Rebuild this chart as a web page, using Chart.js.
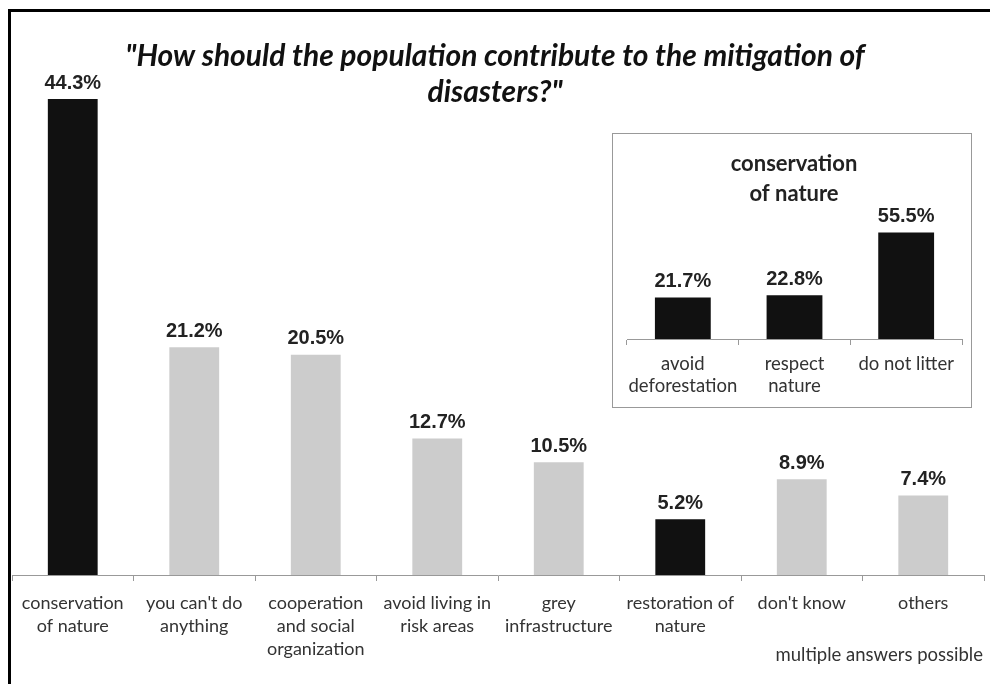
<!DOCTYPE html>
<html>
<head>
<meta charset="utf-8">
<script src="https://cdn.jsdelivr.net/npm/chart.js@4"></script>
<style>
  html, body { margin: 0; padding: 0; background: #fff; }
  #wrap { position: relative; width: 990px; height: 684px; overflow: hidden; }
  #frame { position: absolute; left: 8px; top: 9px; width: 1000px; height: 700px;
           border-left: 3px solid #000; border-top: 3px solid #000; }
  #main { position: absolute; left: 0; top: 0; }
  #insetBox { position: absolute; left: 612px; top: 133px; width: 358px; height: 273px;
              border: 1px solid #999; background: #fff; }
  #inset { position: absolute; left: 0; top: 0; }
</style>
</head>
<body>
<div id="wrap">
  <div id="frame"></div>
  <canvas id="main" width="990" height="684"></canvas>
  <div id="insetBox"><canvas id="inset" width="358" height="273"></canvas></div>
</div>
<script>
// main chart data
const categories = [
    ['conservation', 'of nature'],
    ["you can't do", 'anything'],
    ['cooperation', 'and social', 'organization'],
    ['avoid living in', 'risk areas'],
    ['grey', 'infrastructure'],
    ['restoration of', 'nature'],
    ["don't know"],
    ['others']
];
const shares = [44.3, 21.2, 20.5, 12.7, 10.5, 5.2, 8.9, 7.4];
const highlighted = [true, false, false, false, false, true, false, false];

// inset: breakdown of "conservation of nature"
const insetCategories = [['avoid', 'deforestation'], ['respect', 'nature'], ['do not litter']];
const insetShares = [21.7, 22.8, 55.5];

const labelFont = 'Lato, "Open Sans", sans-serif';
const valueFont = 'bold 20px "Liberation Sans", Arial, sans-serif';

// draws the percentage above each bar
const valueLabels = {
    id: 'valueLabels',
    afterDatasetsDraw(chart) {
        const ctx = chart.ctx;
        const meta = chart.getDatasetMeta(0);
        ctx.save();
        ctx.font = valueFont;
        ctx.fillStyle = '#222';
        ctx.textAlign = 'center';
        ctx.textBaseline = 'bottom';
        meta.data.forEach((bar, i) => {
            const v = chart.data.datasets[0].data[i];
            ctx.fillText(v.toFixed(1) + '%', bar.x, bar.y - 6);
        });
        ctx.restore();
    }
};

// title and note text on the main canvas
const mainText = {
    id: 'mainText',
    afterDraw(chart) {
        const ctx = chart.ctx;
        ctx.save();
        ctx.fillStyle = '#111';
        ctx.textAlign = 'center';
        ctx.textBaseline = 'middle';
        ctx.font = 'italic bold 30px Lato, "Open Sans", sans-serif';
        ctx.fillText('"How should the population contribute to the mitigation of', 495, 56);
        ctx.fillText('disasters?"', 495, 92);
        ctx.font = '18.5px ' + labelFont;
        ctx.fillStyle = '#333';
        ctx.textAlign = 'right';
        ctx.fillText('multiple answers possible', 983, 655);
        ctx.restore();
    }
};

const insetText = {
    id: 'insetText',
    afterDraw(chart) {
        const ctx = chart.ctx;
        ctx.save();
        ctx.fillStyle = '#222';
        ctx.textAlign = 'center';
        ctx.textBaseline = 'middle';
        ctx.font = 'bold 22px ' + labelFont;
        ctx.fillText('conservation', 181, 30);
        ctx.fillText('of nature', 181, 60);
        ctx.restore();
    }
};

new Chart(document.getElementById('main'), {
    type: 'bar',
    data: {
        labels: categories,
        datasets: [{
            data: shares,
            backgroundColor: highlighted.map(h => h ? '#111111' : '#cccccc'),
            barPercentage: 0.41,
            categoryPercentage: 1
        }]
    },
    options: {
        responsive: false,
        animation: false,
        layout: { padding: { top: 60, left: 12, right: 6, bottom: 0 } },
        plugins: { legend: { display: false }, tooltip: { enabled: false } },
        scales: {
            x: {
                grid: { display: true, drawOnChartArea: false, drawTicks: true, tickLength: 6, color: '#999' },
                border: { display: true, color: '#999' },
                ticks: { color: '#333', font: { family: labelFont, size: 18, lineHeight: 1.28 }, padding: 11, maxRotation: 0, autoSkip: false },
                afterFit(scale) { scale.height = 109; }
            },
            y: { display: false, min: 0, max: 47.93 }
        }
    },
    plugins: [valueLabels, mainText]
});

new Chart(document.getElementById('inset'), {
    type: 'bar',
    data: {
        labels: insetCategories,
        datasets: [{
            data: insetShares,
            backgroundColor: '#111111',
            barPercentage: 0.5,
            categoryPercentage: 1
        }]
    },
    options: {
        responsive: false,
        animation: false,
        layout: { padding: { top: 88, left: 14, right: 9, bottom: 0 } },
        plugins: { legend: { display: false }, tooltip: { enabled: false } },
        scales: {
            x: {
                grid: { display: true, drawOnChartArea: false, drawTicks: true, tickLength: 6, color: '#999' },
                border: { display: true, color: '#999' },
                ticks: { color: '#333', font: { family: labelFont, size: 18.5, lineHeight: 1.2 }, padding: 8, maxRotation: 0, autoSkip: false },
                afterFit(scale) { scale.height = 68; }
            },
            y: { display: false, min: 0, max: 61 }
        }
    },
    plugins: [valueLabels, insetText]
});
</script>
</body>
</html>
